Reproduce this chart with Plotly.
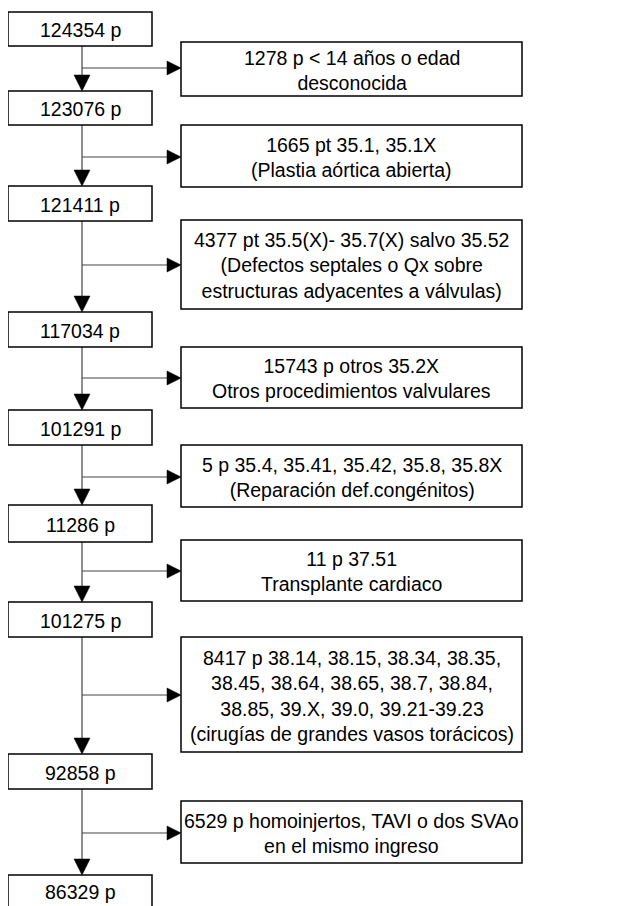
import plotly.graph_objects as go

# patient counts remaining after each step
remaining = ["124354 p", "123076 p", "121411 p", "117034 p", "101291 p",
             "11286 p", "101275 p", "92858 p", "86329 p"]

# exclusions at each step
excluded = [
    "1278 p < 14 años o edad<br>desconocida",
    "1665 pt 35.1, 35.1X<br>(Plastia aórtica abierta)",
    "4377 pt 35.5(X)- 35.7(X) salvo 35.52<br>(Defectos septales o Qx sobre<br>estructuras adyacentes a válvulas)",
    "15743 p otros 35.2X<br>Otros procedimientos valvulares",
    "5 p 35.4, 35.41, 35.42, 35.8, 35.8X<br>(Reparación def.congénitos)",
    "11 p 37.51<br>Transplante cardiaco",
    "8417 p 38.14, 38.15, 38.34, 38.35,<br>38.45, 38.64, 38.65, 38.7, 38.84,<br>38.85, 39.X, 39.0, 39.21-39.23<br>(cirugías de grandes vasos torácicos)",
    "6529 p homoinjertos, TAVI o dos SVAo<br>en el mismo ingreso",
]

# layout geometry (page pixels)
left_box_y = [(12, 46), (91, 125), (186, 221), (312, 347), (410, 445),
              (505, 542), (602, 637), (754, 789), (875, 912)]
right_box_y = [(42, 96), (125, 187), (220, 309), (347, 408), (445, 507),
               (540, 601), (637, 752), (801, 863)]
branch_y = [68, 157, 265, 378, 477, 571, 695, 833]

LX0, LX1, CX = 8, 152, 82
RX0, RX1 = 181, 522
FONT = dict(family="Liberation Sans, Arial, sans-serif", size=19.5, color="black")

shapes = []
annotations = []

for (y0, y1), label in zip(left_box_y, remaining):
    shapes.append(dict(type="rect", x0=LX0, x1=LX1, y0=y0, y1=y1,
                       line=dict(color="black", width=1.5), fillcolor="white"))
    annotations.append(dict(x=(LX0 + LX1) / 2, y=(y0 + min(y1, 906)) / 2 + 1,
                            text=label, showarrow=False, font=FONT))

for (y0, y1), label in zip(right_box_y, excluded):
    shapes.append(dict(type="rect", x0=RX0, x1=RX1, y0=y0, y1=y1,
                       line=dict(color="black", width=1.5), fillcolor="white"))
    annotations.append(dict(x=(RX0 + RX1) / 2, y=(y0 + y1) / 2 + 1, text=label,
                            showarrow=False, font=FONT))

# vertical connectors with arrowheads, and side branches
for i in range(len(branch_y)):
    top = left_box_y[i][1]
    tip = left_box_y[i + 1][0]
    shapes.append(dict(type="line", x0=CX, x1=CX, y0=top, y1=tip - 14,
                       line=dict(color="#444444", width=1.2), layer="below"))
    shapes.append(dict(type="path",
                       path=f"M {CX-8},{tip-16} L {CX+8},{tip-16} L {CX},{tip} Z",
                       fillcolor="black", line=dict(color="black", width=0.5)))
    by = branch_y[i]
    shapes.append(dict(type="line", x0=CX, x1=RX0 - 12, y0=by, y1=by,
                       line=dict(color="#444444", width=1.2), layer="below"))
    shapes.append(dict(type="path",
                       path=f"M {RX0-14},{by-7} L {RX0-14},{by+7} L {RX0},{by} Z",
                       fillcolor="black", line=dict(color="black", width=0.5)))

# the page body has an 8px margin, so the plot starts at page pixel 8
fig = go.Figure()
fig.update_layout(
    width=620, height=898,
    margin=dict(l=0, r=0, t=0, b=0),
    paper_bgcolor="white", plot_bgcolor="white",
    xaxis=dict(range=[8, 628], visible=False, fixedrange=True),
    yaxis=dict(range=[906, 8], visible=False, fixedrange=True),
    shapes=shapes, annotations=annotations, showlegend=False,
)

fig.write_html("out.html")
